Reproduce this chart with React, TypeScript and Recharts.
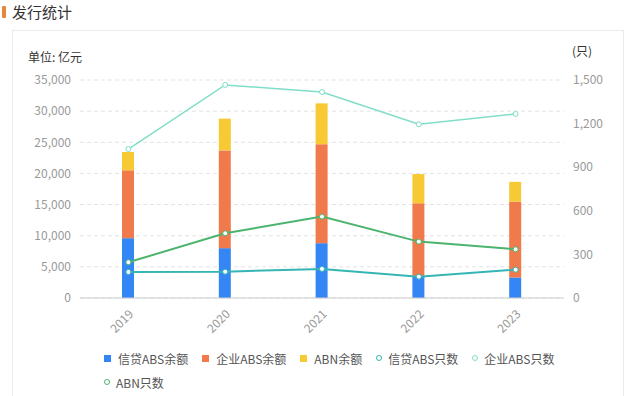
import React from 'react';
import { ComposedChart, Bar, Line, XAxis, YAxis, CartesianGrid, Legend } from 'recharts';

const years = ['2019', '2020', '2021', '2022', '2023'];
const creditAbsBalance = [9600, 8000, 8800, 3400, 3300];
const corpAbsBalance = [10900, 15700, 15900, 11800, 12150];
const abnBalance = [2950, 5100, 6550, 4700, 3200];
const creditAbsCount = [179, 181, 200, 147, 195];
const corpAbsCount = [1025, 1466, 1417, 1195, 1266];
const abnCount = [246, 445, 560, 388, 335];
const leftTicks = [0, 5000, 10000, 15000, 20000, 25000, 30000, 35000];
const rightTicks = [0, 300, 600, 900, 1200, 1500];

const data = years.map((y, i) => ({
  year: y,
  creditAbsBalance: creditAbsBalance[i],
  corpAbsBalance: corpAbsBalance[i],
  abnBalance: abnBalance[i],
  creditAbsCount: creditAbsCount[i],
  corpAbsCount: corpAbsCount[i],
  abnCount: abnCount[i],
}));

const FONT = '"Noto Sans CJK SC", "Noto Sans", sans-serif';
const C_BLUE = '#3386F4';
const C_ORANGE = '#F07A4C';
const C_YELLOW = '#F7C935';
const C_TEAL = '#35B5B3';
const C_LTEAL = '#80DEC8';
const C_GREEN = '#4DB46E';

const legendItems = [
  { name: '信贷ABS余额', color: C_BLUE, type: 'bar' },
  { name: '企业ABS余额', color: C_ORANGE, type: 'bar' },
  { name: 'ABN余额', color: C_YELLOW, type: 'bar' },
  { name: '信贷ABS只数', color: C_TEAL, type: 'line' },
  { name: '企业ABS只数', color: C_LTEAL, type: 'line' },
  { name: 'ABN只数', color: C_GREEN, type: 'line' },
];

const fmt = (v: number) => v.toLocaleString('en-US');

const XTick = (props: any) => {
  const { x, y, payload } = props;
  return (
    <g transform={`translate(${x + 3},${y + 6}) rotate(-45)`}>
      <text x={0} y={0} dy={4} textAnchor="end" fill="#999" fontSize={12} fontFamily={FONT}>
        {payload.value}
      </text>
    </g>
  );
};

const LegendContent = () => (
  <div style={{ display: 'flex', flexWrap: 'wrap', width: 470, fontFamily: FONT, fontSize: 12, color: '#555', rowGap: 6 }}>
    {legendItems.map((it) => (
      <div key={it.name} style={{ display: 'flex', alignItems: 'center', marginRight: 14, height: 18 }}>
        {it.type === 'bar' ? (
          <span style={{ display: 'inline-block', width: 7, height: 7, background: it.color, marginRight: 7 }} />
        ) : (
          <span style={{ display: 'inline-block', width: 4, height: 4, borderRadius: '50%', border: `1.5px solid ${it.color}`, marginRight: 6 }} />
        )}
        <span>{it.name}</span>
      </div>
    ))}
  </div>
);

export default function App() {
  return (
    <div style={{ position: 'fixed', left: 0, top: 0, width: 641, height: 396, background: '#fff', overflow: 'hidden', fontFamily: FONT }}>
      <div style={{ position: 'absolute', left: 2, top: 6, width: 4, height: 12, background: '#E8873A', borderRadius: 1 }} />
      <div style={{ position: 'absolute', left: 12, top: 1, fontSize: 15, color: '#333', lineHeight: '22px' }}>发行统计</div>
      <div style={{ position: 'absolute', left: 12, top: 30, width: 612, height: 380, border: '1px solid #ebebeb', boxSizing: 'border-box' }} />
      <div style={{ position: 'absolute', left: 28, top: 48, fontSize: 12, color: '#333', lineHeight: '18px' }}>单位: 亿元</div>
      <div style={{ position: 'absolute', left: 572, top: 42, fontSize: 12, color: '#333', lineHeight: '18px' }}>(只)</div>
      <div style={{ position: 'absolute', left: 0, top: 0 }}>
        <ComposedChart width={641} height={396} data={data} margin={{ top: 80, right: 17, bottom: 48, left: 20 }} barSize={12}>
          <CartesianGrid yAxisId="left" vertical={false} stroke="#e3e3e3" strokeDasharray="4 3" />
          <XAxis dataKey="year" tick={<XTick />} tickLine={false} axisLine={{ stroke: '#ccc' }} height={50} interval={0} />
          <YAxis yAxisId="left" domain={[0, 35000]} ticks={leftTicks} tickFormatter={fmt} width={60} axisLine={false} tickLine={false} tickSize={0} tickMargin={9} tick={{ fill: '#999', fontSize: 12, fontFamily: FONT }} />
          <YAxis yAxisId="right" orientation="right" domain={[0, 1500]} ticks={rightTicks} tickFormatter={fmt} width={60} axisLine={false} tickLine={false} tickSize={0} tickMargin={9} tick={{ fill: '#999', fontSize: 12, fontFamily: FONT, textAnchor: 'start' }} />
          <Bar yAxisId="left" dataKey="creditAbsBalance" name="信贷ABS余额" stackId="a" fill={C_BLUE} isAnimationActive={false} />
          <Bar yAxisId="left" dataKey="corpAbsBalance" name="企业ABS余额" stackId="a" fill={C_ORANGE} isAnimationActive={false} />
          <Bar yAxisId="left" dataKey="abnBalance" name="ABN余额" stackId="a" fill={C_YELLOW} isAnimationActive={false} />
          <Line yAxisId="right" dataKey="creditAbsCount" name="信贷ABS只数" stroke={C_TEAL} strokeWidth={2} dot={{ r: 2.5, fill: '#fff', stroke: C_TEAL, strokeWidth: 1 }} isAnimationActive={false} />
          <Line yAxisId="right" dataKey="corpAbsCount" name="企业ABS只数" stroke={C_LTEAL} strokeWidth={1.5} dot={{ r: 2.5, fill: '#fff', stroke: C_LTEAL, strokeWidth: 1 }} isAnimationActive={false} />
          <Line yAxisId="right" dataKey="abnCount" name="ABN只数" stroke={C_GREEN} strokeWidth={2} dot={{ r: 2.5, fill: '#fff', stroke: C_GREEN, strokeWidth: 1 }} isAnimationActive={false} />
          <Legend layout="horizontal" verticalAlign="middle" align="center" content={<LegendContent />} wrapperStyle={{ top: 349, left: 104, width: 470, height: 44 }} />
        </ComposedChart>
      </div>
    </div>
  );
}
